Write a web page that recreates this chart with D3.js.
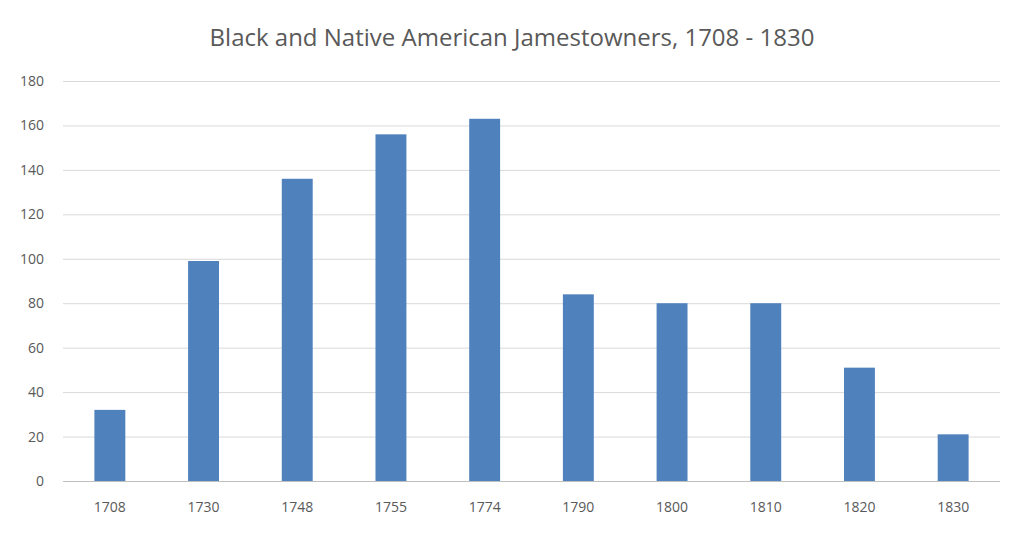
<!DOCTYPE html>
<html><head><meta charset="utf-8">
<script src="https://cdn.jsdelivr.net/npm/d3@7"></script>
<style>body{margin:0;background:#fff}</style></head>
<body><svg id="c" width="1024" height="533"></svg>
<script>
const categories=["1708","1730","1748","1755","1774","1790","1800","1810","1820","1830"];
const values=[32,99,136,156,163,84,80,80,51,21];
const yTicks=[0,20,40,60,80,100,120,140,160,180];
const svg=d3.select("#c");
const m={l:63,r:1000,t:81,b:481};
const x=d3.scaleBand().domain(categories).range([m.l,m.r]).paddingInner(0.67).paddingOuter(0.335);
const y=d3.scaleLinear().domain([0,180]).range([m.b,m.t]);
svg.append("rect").attr("width",1024).attr("height",533).attr("fill","#fff");
svg.append("text").attr("x",512).attr("y",46).attr("text-anchor","middle")
 .attr("font-family","Open Sans, sans-serif").attr("font-size",24).attr("fill","#595959")
 .text("Black and Native American Jamestowners, 1708 - 1830");
svg.selectAll(".g").data(yTicks).join("line").attr("x1",m.l).attr("x2",m.r)
 .attr("y1",d=>y(d)+0.5).attr("y2",d=>y(d)+0.5).attr("stroke",d=>d===0?"#bfbfbf":"#d9d9d9");
svg.selectAll(".yl").data(yTicks).join("text").attr("x",44).attr("y",d=>y(d)+5)
 .attr("text-anchor","end").attr("font-family","Open Sans, sans-serif").attr("font-size",14).attr("fill","#595959").text(d=>d);
svg.selectAll(".b").data(values).join("rect").attr("x",(d,i)=>x(categories[i])).attr("width",x.bandwidth())
 .attr("y",d=>y(d)).attr("height",d=>y(0)-y(d)).attr("fill","#4f81bd");
svg.selectAll(".xl").data(categories).join("text").attr("x",d=>x(d)+x.bandwidth()/2).attr("y",512)
 .attr("text-anchor","middle").attr("font-family","Open Sans, sans-serif").attr("font-size",14).attr("fill","#595959").text(d=>d);
</script></body></html>
